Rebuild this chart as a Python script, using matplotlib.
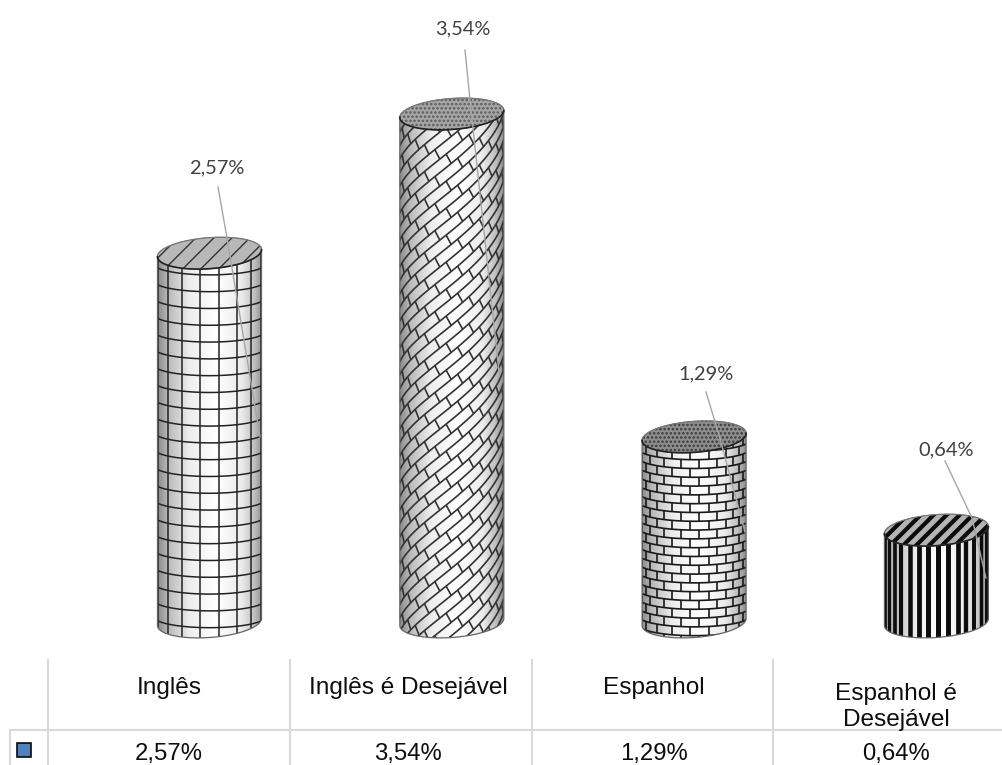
import numpy as np
import matplotlib
matplotlib.use("Agg")
import matplotlib.pyplot as plt
from matplotlib.patches import Polygon, Rectangle
from matplotlib.collections import LineCollection

# Chart values
categories = ["Inglês", "Inglês é Desejável", "Espanhol", "Espanhol é\nDesejável"]
values = [2.57, 3.54, 1.29, 0.64]
patterns = ["grid", "shingle", "brick", "stripes"]

W, H = 1002, 765
PX_PER_CAT = 242.3
PX_PER_VAL = 143.5
BASE_PX = 622          # pixel row of value 0
CAT0_PX = 209.5        # pixel column of the first category
RADIUS_PX = 52
DEPTH_PX = 15.5
SKEW_PX = 3.5
ARC_LIMIT = RADIUS_PX * np.pi / 2

plt.rcParams["hatch.linewidth"] = 1.2

fig = plt.figure(figsize=(W / 100, H / 100), dpi=100, facecolor="white")
ax = fig.add_axes([0, 0, 1, 1])
ax.set_xlim(-CAT0_PX / PX_PER_CAT, (W - CAT0_PX) / PX_PER_CAT)
ax.set_ylim((BASE_PX - H) / PX_PER_VAL, BASE_PX / PX_PER_VAL)
ax.axis("off")

r = RADIUS_PX / PX_PER_CAT
b = DEPTH_PX / PX_PER_VAL
sk = SKEW_PX / PX_PER_VAL

shade = np.array([np.interp(np.linspace(-1, 1, 200),
                            [-1, -0.82, -0.4, 0.1, 0.6, 0.85, 1],
                            [0.55, 0.72, 0.93, 1.0, 0.92, 0.74, 0.55])])


def surface(cx, s_px, h):
    """Map arc length (px) and value height onto the pattern on the front face."""
    t = np.asarray(s_px) / RADIUS_PX
    x = 0.6 * np.sin(t) + 0.4 * t / (np.pi / 2)
    return cx + r * x, h - 0.45 * b * np.cos(t)


def rim(cx, h, t):
    return cx + r * np.sin(t), h - b * np.cos(t) + sk * np.sin(t)


def rows(cx, top, step_px):
    s = np.linspace(-ARC_LIMIT, ARC_LIMIT, 60)
    return [np.column_stack(surface(cx, s, h))
            for h in np.arange(-b, top + b, step_px / PX_PER_VAL)]


def meridians(cx, top, step_px, offset=0.0):
    marks = np.arange(-ARC_LIMIT + (offset % step_px), ARC_LIMIT, step_px)
    return [np.column_stack(surface(cx, np.array([s, s]), np.array([-2 * b, top + b])))
            for s in marks], marks


def grid_lines(cx, top):
    return rows(cx, top, 16.8) + meridians(cx, top, 22.5, 3)[0], None


def brick_lines(cx, top):
    segs = rows(cx, top, 8.8)
    step = 8.8 / PX_PER_VAL
    for i, h in enumerate(np.arange(-b, top + b, step)):
        for s in np.arange(-ARC_LIMIT + (11 if i % 2 else 0), ARC_LIMIT, 22):
            segs.append(np.column_stack(surface(cx, np.array([s, s]),
                                                np.array([h, h + step]))))
    return segs, None


def shingle_lines(cx, top):
    slope = 0.70
    gap = 13.5
    brick = 27.0
    s = np.linspace(-ARC_LIMIT, ARC_LIMIT, 60)
    top_px = top * PX_PER_VAL
    segs = []
    for k in range(-14, int((top_px + 90) / gap) + 1):
        h0 = k * gap - 20
        segs.append(np.column_stack(surface(cx, s, (h0 + slope * s) / PX_PER_VAL)))
        for c in np.arange(-ARC_LIMIT - brick, ARC_LIMIT + brick, brick):
            s0 = c + (brick / 2 if k % 2 else 0)
            s1 = s0 - 6
            heights = np.array([h0 + slope * s0, h0 + gap + slope * s1])
            segs.append(np.column_stack(surface(cx, np.array([s0, s1]),
                                                heights / PX_PER_VAL)))
    return segs, None


def stripe_lines(cx, top):
    segs, marks = meridians(cx, top, 11.7, 2)
    widths = 3.6 * (0.5 + 0.5 * np.cos(marks / RADIUS_PX))
    return segs, widths


def cap_diagonals(cx, h, period_px):
    """Diagonal 45-degree strokes spanning the top face, spaced along x in pixels."""
    reach = RADIUS_PX + 2 * DEPTH_PX
    segs = []
    for off in np.arange(-reach, reach, period_px):
        px = np.array([off - 30, off + 30])
        py = np.array([-30.0, 30.0])
        segs.append(np.column_stack([cx + px / PX_PER_CAT, h + py / PX_PER_VAL]))
    return segs


LINE_STYLE = {
    "grid": (grid_lines, 1.1, "#222222"),
    "shingle": (shingle_lines, 1.2, "#333333"),
    "brick": (brick_lines, 1.2, "#1a1a1a"),
    "stripes": (stripe_lines, 3.6, "#0c0c0c"),
}
# face colour, hatch colour, hatch, stroke period in px, stroke width
CAP_STYLE = {
    "grid": ("#b8b8b8", "#333333", None, 18, 1.0),
    "shingle": ("#a6a6a6", "#5a5a5a", "....", None, 0),
    "brick": ("#8e8e8e", "#3a3a3a", "....", None, 0),
    "stripes": ("#b4b4b4", "#0c0c0c", None, 13, 3.0),
}

t_all = np.linspace(0, 2 * np.pi, 240)
for i, (value, kind) in enumerate(zip(values, patterns)):
    # Body outline: lower edge of the base, then the whole top ellipse
    t_low = np.linspace(-np.pi / 2, np.pi / 2, 80)
    xb, yb = rim(i, 0.0, t_low)
    t_up = np.linspace(np.pi / 2, 3 * np.pi / 2, 80)
    xt, yt = rim(i, value, t_up)
    outline = Polygon(np.column_stack([np.r_[xb, xt], np.r_[yb, yt]]),
                      closed=True, facecolor="none", edgecolor="#666666",
                      lw=0.9, zorder=4)
    ax.add_patch(outline)

    img = ax.imshow(shade, cmap="gray", vmin=0, vmax=1, aspect="auto",
                    extent=(i - r, i + r, -b - sk, value + b + sk),
                    interpolation="bilinear", zorder=2)
    img.set_clip_path(outline)

    maker, lw, col = LINE_STYLE[kind]
    segs, widths = maker(i, value)
    lines = LineCollection(segs, colors=col,
                           linewidths=lw if widths is None else widths, zorder=3)
    ax.add_collection(lines)
    lines.set_clip_path(outline)

    # Top face
    xc, yc = rim(i, value, t_all)
    face, hatch_col, hatch, period, stroke = CAP_STYLE[kind]
    cap = Polygon(np.column_stack([xc, yc]), closed=True, facecolor=face,
                  edgecolor=hatch_col, hatch=hatch, lw=0, zorder=5)
    ax.add_patch(cap)
    if period:
        strokes = LineCollection(cap_diagonals(i, value, period), colors=hatch_col,
                                 linewidths=stroke, zorder=5.5)
        ax.add_collection(strokes)
        strokes.set_clip_path(cap)
    ax.plot(xc, yc, color="#777777", lw=0.8, zorder=6)
    tf = np.linspace(-np.pi / 2, np.pi / 2, 60)
    xf, yf = rim(i, value, tf)
    ax.plot(xf, yf, color="#222222", lw=1.2, zorder=6)

ax.set_xlim(-CAT0_PX / PX_PER_CAT, (W - CAT0_PX) / PX_PER_CAT)
ax.set_ylim((BASE_PX - H) / PX_PER_VAL, BASE_PX / PX_PER_VAL)

# Overlay in pixel units for the data labels and the data table
ov = fig.add_axes([0, 0, 1, 1], facecolor="none")
ov.set_xlim(0, W)
ov.set_ylim(H, 0)
ov.axis("off")


def pct(v):
    return f"{v:.2f}%".replace(".", ",")


label_pos = [(217, 168), (463, 29), (706, 374), (946, 450)]
leaders = [
    [(218, 187), (227, 238), (260, 437)],
    [(465, 50), (470, 100), (499, 372)],
    [(706, 392), (719, 435), (745, 532)],
    [(945, 461), (972, 518), (986, 578)],
]
for v, (lx, ly), pts in zip(values, label_pos, leaders):
    ov.text(lx, ly, pct(v), ha="center", va="center", fontsize=14.4,
            family="Lato", color="#404040")
    xs, ys = zip(*pts)
    ov.plot(xs, ys, color="#a6a6a6", lw=1.0, zorder=8)

RULE = "#d9d9d9"
col_edges = [48.5, 290, 532, 773.5]
ov.plot([10, W], [730, 730], color=RULE, lw=1.5)
ov.plot([10, 10], [730, H], color=RULE, lw=1.5)
for x in col_edges:
    ov.plot([x, x], [660, H], color=RULE, lw=1.5)

col_centres = [169, 408, 654, 896]
name_font = dict(family="Liberation Sans", color="#0d0d0d", fontsize=17.6,
                 ha="center", va="center")
value_font = dict(name_font, fontsize=17.2)
for x, name, v in zip(col_centres, categories, values):
    if "\n" in name:
        first, second = name.split("\n")
        ov.text(x, 694, first, **name_font)
        ov.text(x, 720, second, **name_font)
    else:
        ov.text(x, 688, name, **name_font)
    ov.text(x, 754, pct(v), **value_font)

ov.add_patch(Rectangle((17, 742.5), 14, 14, facecolor="#4f81bd",
                       edgecolor="#0a0a0a", lw=1.2))

fig.savefig("out.png", dpi=100, facecolor="white")
